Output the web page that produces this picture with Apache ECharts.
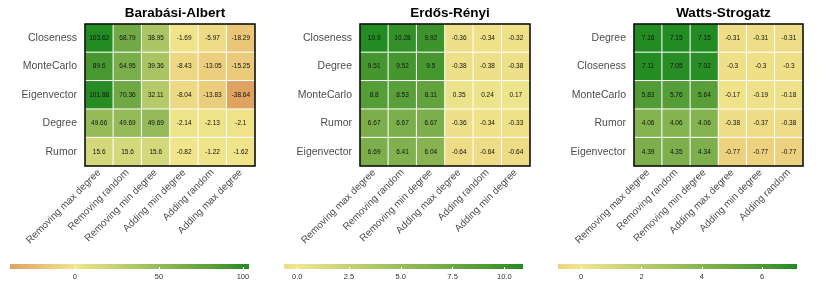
<!DOCTYPE html>
<html>
<head>
<meta charset="utf-8">
<script src="https://cdn.jsdelivr.net/npm/echarts@6/dist/echarts.min.js"></script>
<style>
html,body{margin:0;padding:0;background:#fff;}
#chart{width:830px;height:282px;}
</style>
</head>
<body>
<div id="chart"></div>
<script>
// ---- Data ----
const titles = ['Barabási-Albert', 'Erdős-Rényi', 'Watts-Strogatz'];

const baRows = ['Closeness', 'MonteCarlo', 'Eigenvector', 'Degree', 'Rumor'];
const baCols = ['Removing max degree', 'Removing random', 'Removing min degree', 'Adding min degree', 'Adding random', 'Adding max degree'];
const baValues = [
  [103.62, 68.79, 38.95, -1.69, -5.97, -18.29],
  [89.6, 64.95, 39.36, -8.43, -13.05, -15.25],
  [101.88, 70.36, 32.11, -8.04, -13.83, -38.64],
  [49.66, 49.69, 49.69, -2.14, -2.13, -2.1],
  [15.6, 15.6, 15.6, -0.82, -1.22, -1.62]
];
const baTicks = [0, 50, 100];
const baTickLabels = ['0', '50', '100'];

const erRows = ['Closeness', 'Degree', 'MonteCarlo', 'Rumor', 'Eigenvector'];
const erCols = ['Removing max degree', 'Removing random', 'Removing min degree', 'Adding max degree', 'Adding random', 'Adding min degree'];
const erValues = [
  [10.9, 10.28, 9.92, -0.36, -0.34, -0.32],
  [9.51, 9.52, 9.5, -0.38, -0.38, -0.38],
  [8.8, 8.53, 8.11, 0.35, 0.24, 0.17],
  [6.67, 6.67, 6.67, -0.36, -0.34, -0.33],
  [6.69, 6.41, 6.04, -0.64, -0.64, -0.64]
];
const erTicks = [0, 2.5, 5, 7.5, 10];
const erTickLabels = ['0.0', '2.5', '5.0', '7.5', '10.0'];

const wsRows = ['Degree', 'Closeness', 'MonteCarlo', 'Rumor', 'Eigenvector'];
const wsCols = ['Removing max degree', 'Removing random', 'Removing min degree', 'Adding max degree', 'Adding min degree', 'Adding random'];
const wsValues = [
  [7.16, 7.15, 7.15, -0.31, -0.31, -0.31],
  [7.11, 7.05, 7.02, -0.3, -0.3, -0.3],
  [5.83, 5.76, 5.64, -0.17, -0.19, -0.18],
  [4.06, 4.06, 4.06, -0.38, -0.37, -0.38],
  [4.39, 4.35, 4.34, -0.77, -0.77, -0.77]
];
const wsTicks = [0, 2, 4, 6];
const wsTickLabels = ['0', '2', '4', '6'];

// ---- Styling helpers (diverging scale interpolated in Lab) ----
const LOW = [178, 34, 34];    // firebrick
const MID = [240, 230, 140];  // khaki
const HIGH = [34, 139, 34];   // forestgreen
const FONT = '"Liberation Sans", Arial, Helvetica, sans-serif';

function toLin(c) { c /= 255; return c <= 0.04045 ? c / 12.92 : Math.pow((c + 0.055) / 1.055, 2.4); }
function fromLin(c) { const v = c <= 0.0031308 ? 12.92 * c : 1.055 * Math.pow(c, 1 / 2.4) - 0.055; return Math.max(0, Math.min(255, Math.round(v * 255))); }
const Xn = 0.95047, Yn = 1, Zn = 1.08883;
function f(t) { return t > 0.008856 ? Math.cbrt(t) : 7.787 * t + 16 / 116; }
function fi(t) { return t > 0.206893 ? t * t * t : (t - 16 / 116) / 7.787; }
function rgb2lab(c) {
  const r = toLin(c[0]), g = toLin(c[1]), b = toLin(c[2]);
  const X = r * 0.4124 + g * 0.3576 + b * 0.1805;
  const Y = r * 0.2126 + g * 0.7152 + b * 0.0722;
  const Z = r * 0.0193 + g * 0.1192 + b * 0.9505;
  const fx = f(X / Xn), fy = f(Y / Yn), fz = f(Z / Zn);
  return [116 * fy - 16, 500 * (fx - fy), 200 * (fy - fz)];
}
function lab2rgb(l) {
  const fy = (l[0] + 16) / 116, fx = fy + l[1] / 500, fz = fy - l[2] / 200;
  const X = Xn * fi(fx), Y = Yn * fi(fy), Z = Zn * fi(fz);
  const r = X * 3.2406 + Y * -1.5372 + Z * -0.4986;
  const g = X * -0.9689 + Y * 1.8758 + Z * 0.0415;
  const b = X * 0.0557 + Y * -0.2040 + Z * 1.0570;
  return [fromLin(r), fromLin(g), fromLin(b)];
}
const LOWL = rgb2lab(LOW), MIDL = rgb2lab(MID), HIGHL = rgb2lab(HIGH);
function mixLab(a, b, t) {
  const c = lab2rgb(a.map((v, i) => v + (b[i] - v) * t));
  return 'rgb(' + c.join(',') + ')';
}
function grad2(v, maxAbs) {
  const t = v / maxAbs;
  return t < 0 ? mixLab(MIDL, LOWL, Math.min(1, -t)) : mixLab(MIDL, HIGHL, Math.min(1, t));
}

const panels = [
  {rows: baRows, cols: baCols, values: baValues, ticks: baTicks, tickLabels: baTickLabels, left: 85, width: 170, cbLeft: 10},
  {rows: erRows, cols: erCols, values: erValues, ticks: erTicks, tickLabels: erTickLabels, left: 360, width: 170, cbLeft: 284},
  {rows: wsRows, cols: wsCols, values: wsValues, ticks: wsTicks, tickLabels: wsTickLabels, left: 634, width: 169, cbLeft: 558}
];

const option = {
  animation: false,
  backgroundColor: '#fff',
  title: [], grid: [], xAxis: [], yAxis: [], series: [], visualMap: []
};

panels.forEach((p, i) => {
  const flat = p.values.flat();
  const dmin = Math.min(...flat), dmax = Math.max(...flat);
  const maxAbs = Math.max(Math.abs(dmin), Math.abs(dmax));
  const NS = 60;
  const stops = [];
  for (let k = 0; k <= NS; k++) stops.push(grad2(dmin + (dmax - dmin) * k / NS, maxAbs));

  option.title.push({
    text: titles[i], left: p.left + p.width / 2, top: 1, textAlign: 'center',
    textStyle: {fontFamily: FONT, fontSize: 13.5, fontWeight: 'bold', color: '#000'}
  });

  const gi = i * 2;
  option.grid.push({left: p.left, top: 24, width: p.width, height: 142, show: true,
    borderColor: '#000', borderWidth: 1.5, backgroundColor: 'transparent', z: 10});
  option.grid.push({left: p.cbLeft, top: 264, width: 239, height: 5, show: true,
    borderWidth: 0,
    backgroundColor: new echarts.graphic.LinearGradient(0, 0, 1, 0,
      stops.map((c, k) => ({offset: k / NS, color: c})))});

  option.xAxis.push({
    type: 'category', gridIndex: gi, data: p.cols,
    axisLine: {show: false}, axisTick: {show: false}, splitArea: {show: false},
    axisLabel: {rotate: 45, margin: 5, fontSize: 10, color: '#4d4d4d', fontFamily: FONT, interval: 0}
  });
  option.yAxis.push({
    type: 'category', gridIndex: gi, data: p.rows, inverse: true,
    axisLine: {show: false}, axisTick: {show: false}, splitArea: {show: false},
    axisLabel: {margin: 8, fontSize: 10.5, color: '#4d4d4d', fontFamily: FONT}
  });
  option.xAxis.push({
    type: 'value', gridIndex: gi + 1, min: dmin, max: dmax,
    axisLine: {show: false}, splitLine: {show: false},
    axisTick: {show: true, inside: true, length: 2, lineStyle: {color: '#fff', width: 1}, customValues: p.ticks},
    axisLabel: {show: true, margin: 4, fontSize: 7.5, color: '#333', fontFamily: FONT,
      customValues: p.ticks,
      formatter: v => { const k = p.ticks.indexOf(v); return k >= 0 ? p.tickLabels[k] : ''; }}
  });
  option.yAxis.push({type: 'value', gridIndex: gi + 1, show: false, min: 0, max: 1});

  const data = [];
  p.values.forEach((row, r) => row.forEach((v, c) => data.push([c, r, v])));
  option.series.push({
    type: 'heatmap', xAxisIndex: gi, yAxisIndex: gi, data: data,
    itemStyle: {borderColor: '#fff', borderWidth: 1},
    label: {show: true, fontSize: 6.5, color: '#111', fontFamily: FONT, formatter: pr => String(pr.value[2])},
    emphasis: {disabled: true}
  });
  option.visualMap.push({
    type: 'continuous', show: false, seriesIndex: i, min: dmin, max: dmax, dimension: 2,
    inRange: {color: stops}
  });
});

const chart = echarts.init(document.getElementById('chart'), null, {renderer: 'canvas'});
chart.setOption(option);
</script>
</body>
</html>
